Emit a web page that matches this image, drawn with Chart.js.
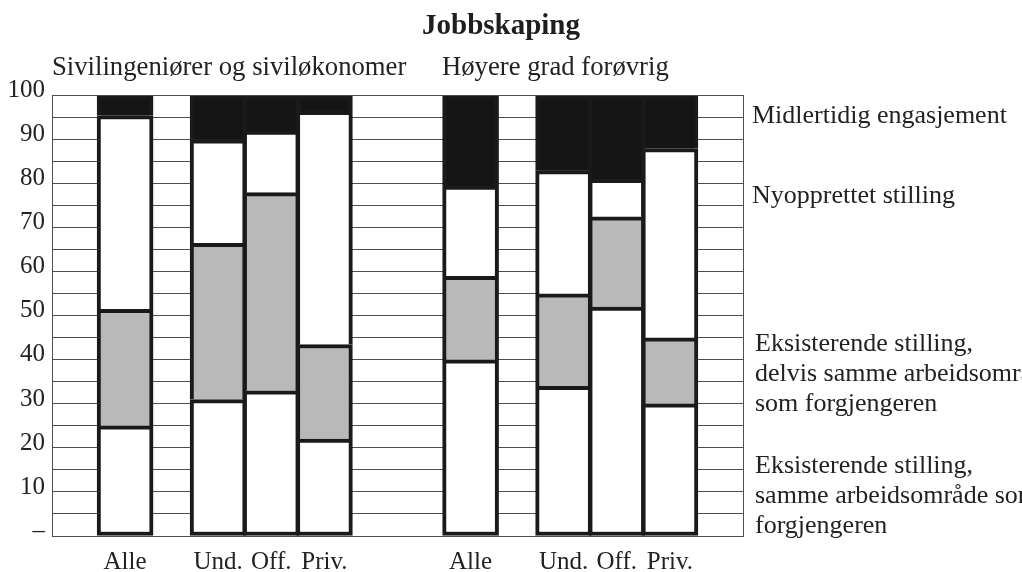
<!DOCTYPE html>
<html>
<head>
<meta charset="utf-8">
<title>Jobbskaping</title>
<script src="https://cdn.jsdelivr.net/npm/chart.js@4.4.1/dist/chart.umd.min.js"></script>
<style>
  body { margin: 0; background: #fff; }
  canvas { display: block; }
</style>
</head>
<body>
<canvas id="jobChart" width="1022" height="572"></canvas>
<script>
const title = 'Jobbskaping';
const groups = ['Sivilingeniører og siviløkonomer', 'Høyere grad forøvrig'];
const categories = ['Alle', 'Und.', 'Off.', 'Priv.', 'Alle', 'Und.', 'Off.', 'Priv.'];

// prosentandeler, nedenfra og opp i hver stolpe
const samme = [25, 31, 33, 22, 40, 34, 52, 30];
const delvis = [26.5, 35.5, 45, 21.5, 19, 21, 20.5, 15];
const nyopprettet = [44, 23.5, 14, 53, 20.5, 28, 8.5, 43];
const midlertidig = [4.5, 10, 8, 3.5, 20.5, 17, 19, 12];

const yTickLabels = ['–', '10', '20', '30', '40', '50', '60', '70', '80', '90', '100'];

const seriesNames = [
  ['Eksisterende stilling,', 'samme arbeidsområde som', 'forgjengeren'],
  ['Eksisterende stilling,', 'delvis samme arbeidsområde', 'som forgjengeren'],
  ['Nyopprettet stilling'],
  ['Midlertidig engasjement']
];

// smale kategorier saa stolpene kan plasseres med ulike mellomrom
const SLOTS = 52;
const slotOf = [5, 12, 16, 20, 31, 38, 42, 46];
function spread(values) {
  const out = new Array(SLOTS).fill(null);
  values.forEach((v, i) => out[slotOf[i]] = v);
  return out;
}

const ink = '#1a1a1a';
const gridColor = '#4e4e4e';
const serif = "'Liberation Serif', 'Times New Roman', serif";
Chart.defaults.font.family = serif;
Chart.defaults.color = '#222';

function series(name, values, fill, first) {
  return {
    label: name.join(' '),
    data: spread(values),
    backgroundColor: fill,
    borderColor: ink,
    borderWidth: { top: 4, left: 4, right: 4, bottom: first ? 4 : 0 },
    borderSkipped: false,
    barThickness: 56,
    stack: 'jobb'
  };
}

const textPlugin = {
  id: 'sideText',
  afterDraw(chart) {
    const ctx = chart.ctx;
    const area = chart.chartArea;
    ctx.save();
    ctx.fillStyle = '#222';
    ctx.textBaseline = 'alphabetic';
    ctx.textAlign = 'left';
    // gruppeoverskrifter
    ctx.font = '26.7px ' + serif;
    ctx.fillText(groups[0], area.left, 75);
    ctx.fillText(groups[1], 442, 75);
    // forklaringer til hoyre
    ctx.font = '26px ' + serif;
    const baselines = [[473, 503, 533], [351, 381, 411], [203], [123]];
    seriesNames.forEach((lines, i) => {
      const x = area.right + (i < 2 ? 12 : 9);
      lines.forEach((t, j) => ctx.fillText(t, x, baselines[i][j]));
    });
    ctx.restore();
  }
};

new Chart(document.getElementById('jobChart'), {
  type: 'bar',
  data: {
    labels: spread(categories).map(l => l ?? ''),
    datasets: [
      series(seriesNames[0], samme, '#ffffff', true),
      series(seriesNames[1], delvis, '#b9b9b9', false),
      series(seriesNames[2], nyopprettet, '#ffffff', false),
      series(seriesNames[3], midlertidig, '#151515', false)
    ]
  },
  options: {
    responsive: false,
    animation: false,
    layout: { padding: { right: 20 } },
    plugins: {
      legend: { display: false },
      tooltip: { enabled: false },
      title: {
        display: true,
        text: title,
        color: '#1e1e1e',
        font: { size: 29, weight: 'bold', lineHeight: 1.2 },
        padding: { top: 9, bottom: 52 }
      }
    },
    scales: {
      x: {
        stacked: true,
        grid: { display: false },
        border: { display: true, color: gridColor, width: 1 },
        ticks: { autoSkip: false, maxRotation: 0, minRotation: 0, padding: 3, font: { size: 25 } },
        afterFit: s => { s.height = 36; }
      },
      y: {
        stacked: true,
        min: 0,
        max: 100,
        grid: { color: gridColor, lineWidth: 1, drawTicks: false },
        border: { display: true, color: gridColor, width: 1 },
        ticks: {
          stepSize: 5,
          autoSkip: false,
          padding: 7,
          labelOffset: -5,
          font: { size: 25 },
          callback: v => v % 10 === 0 ? yTickLabels[v / 10] : ''
        },
        afterFit: s => { s.width = 52; }
      },
      y2: {
        position: 'right',
        min: 0,
        max: 100,
        grid: { drawOnChartArea: false, drawTicks: false },
        border: { display: true, color: gridColor, width: 1 },
        ticks: { display: false },
        afterFit: s => { s.width = 259; }
      }
    }
  },
  plugins: [textPlugin]
});
</script>
</body>
</html>
